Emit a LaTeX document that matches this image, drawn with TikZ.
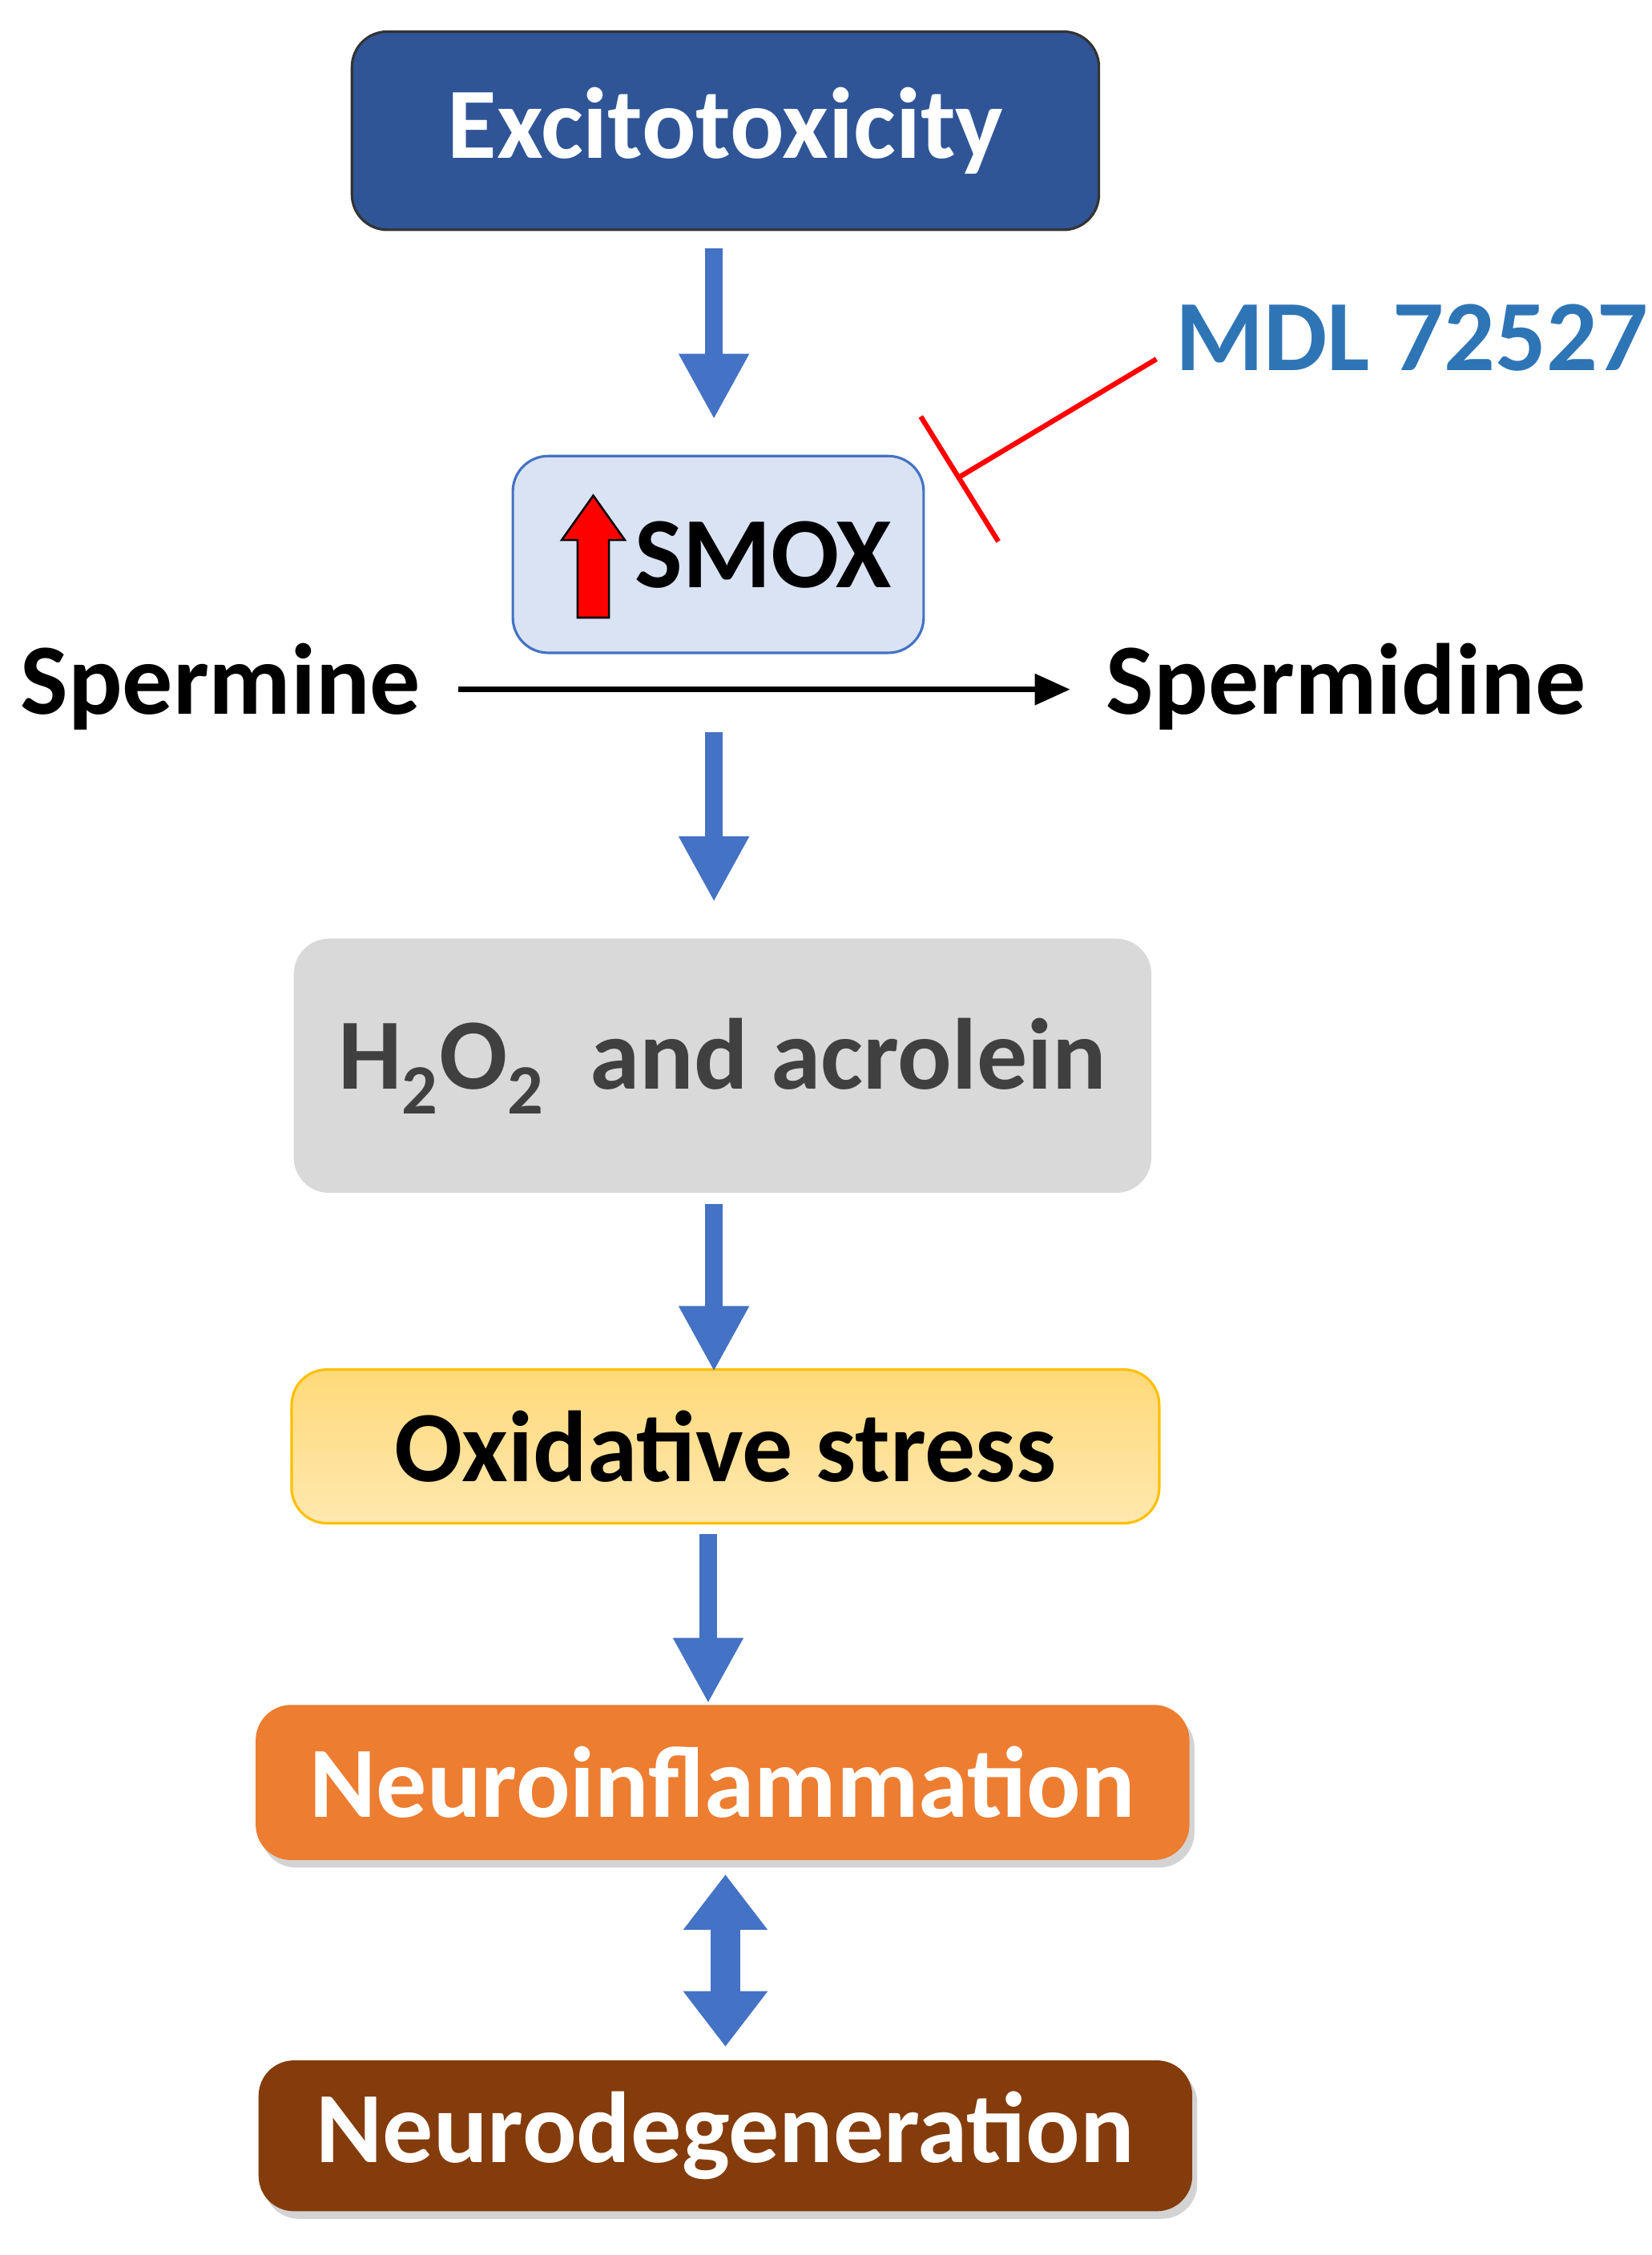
\documentclass[tikz,border=0pt]{standalone}
\usepackage{fontspec}
\setmainfont{Carlito}
\usetikzlibrary{arrows.meta,shadows}
\definecolor{dblue}{HTML}{2F5597}
\definecolor{abl}{HTML}{4472C4}
\definecolor{lblue}{HTML}{DAE3F3}
\definecolor{mdl}{HTML}{2E75B6}
\definecolor{gray1}{HTML}{D9D9D9}
\definecolor{txtg}{HTML}{404040}
\definecolor{ylw}{HTML}{FFD97A}
\definecolor{ylwb}{HTML}{FFC000}
\definecolor{orng}{HTML}{ED7D31}
\definecolor{brn}{HTML}{843C0C}
\begin{document}
\begin{tikzpicture}[x=0.02cm,y=-0.02cm,
  box/.style={rounded corners=14pt,font=\fontsize{40}{44}\selectfont\bfseries,inner sep=0pt},
  blk/.style={abl,line width=7pt,-{Triangle[width=26pt,length=26pt]}},
  shd/.style={drop shadow={shadow xshift=2pt,shadow yshift=-3pt,opacity=0.35}}]
\useasboundingbox (0,0) rectangle (1150,1570);
\node[box,draw=black!80,line width=1pt,fill=dblue,text=white,minimum width=520*0.02cm,minimum height=138*0.02cm] (exc) at (505,91) {Excitotoxicity};
\node[box,draw=abl,line width=1pt,fill=lblue,minimum width=286*0.02cm,minimum height=137*0.02cm] (smox) at (500,386) {};
\node[font=\fontsize{40}{44}\selectfont\bfseries,anchor=west] (smoxt) at (436,386) {SMOX};
\draw[fill=red,draw=black,line width=0.8pt] (402,430) -- (402,376) -- (391,376) -- (413,345) -- (435,376) -- (424,376) -- (424,430) -- cycle;
\node[font=\fontsize{40}{44}\selectfont\bfseries,text=mdl,anchor=west] (mdl) at (812,235) {MDL 72527};
\coordinate (m1) at (805,250);
\coordinate (m2) at (668,332);
\draw[red,line width=2pt] (m1) -- (m2);
\draw[red,line width=2pt] (641,290) -- (695,377);
\node[font=\fontsize{40}{44}\selectfont\bfseries,anchor=west] (spm) at (8,478) {Spermine};
\node[font=\fontsize{40}{44}\selectfont\bfseries,anchor=west] (spd) at (764,478) {Spermidine};
\draw[line width=2.2pt,-{Triangle[width=12pt,length=14pt]}] (spm.east)+(20,2) coordinate (a) (a) -- (745,480);
\node[box,fill=gray1,text=txtg,minimum width=597*0.02cm,minimum height=177*0.02cm] (h2) at (503,742) {H\textsubscript{2}O\textsubscript{2}\ \ and acrolein};
\node[box,draw=ylwb,line width=1pt,top color=ylw,bottom color=ylw!60!white,minimum width=604*0.02cm,minimum height=107*0.02cm] (ox) at (505,1007) {Oxidative stress};
\node[box,shd,fill=orng,text=white,minimum width=650*0.02cm,minimum height=108*0.02cm] (ni) at (503,1241) {Neuroinflammation};
\node[box,shd,fill=brn,text=white,minimum width=650*0.02cm,minimum height=105*0.02cm] (nd) at (505,1487) {Neurodegeneration};
\draw[blk] (497,173) -- (497,292);
\draw[blk] (497,510) -- (497,628);
\draw[blk] (497,838) -- (497,955);
\draw[blk] (493,1068) -- (493,1186);
\draw[abl,line width=12pt,{Triangle[width=32pt,length=22pt]}-{Triangle[width=32pt,length=22pt]}] (505,1305) -- (505,1425);
\end{tikzpicture}
\end{document}
